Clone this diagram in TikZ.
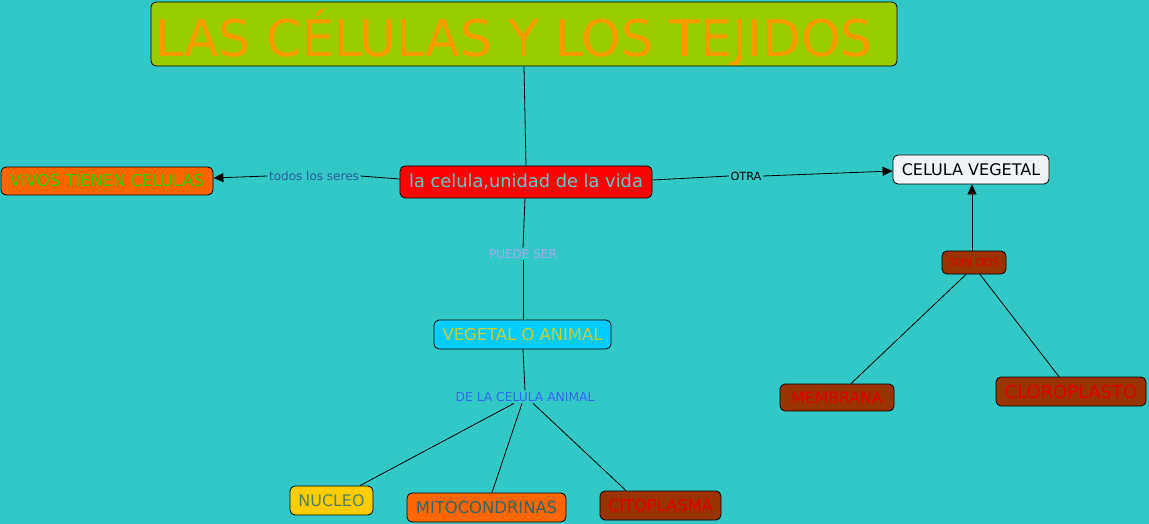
\documentclass[tikz,border=0pt]{standalone}
\usepackage{fontspec}
\setmainfont{DejaVu Sans}
\usetikzlibrary{arrows.meta}
\definecolor{bg}{HTML}{33C8C8}
\definecolor{titlefill}{HTML}{99CC00}
\definecolor{titletext}{HTML}{FF9900}
\definecolor{mainfill}{HTML}{FF0000}
\definecolor{maintext}{HTML}{66C8C8}
\definecolor{orangefill}{HTML}{FF6600}
\definecolor{greentext}{HTML}{33CC00}
\definecolor{darkblue}{HTML}{2D5B9A}
\definecolor{whitefill}{HTML}{F0F4F7}
\definecolor{brownfill}{HTML}{993300}
\definecolor{redtext}{HTML}{E00000}
\definecolor{lilac}{HTML}{A8A8F0}
\definecolor{cyanfill}{HTML}{00CCFF}
\definecolor{yellowtext}{HTML}{CCCC33}
\definecolor{bluetext}{HTML}{3366EE}
\definecolor{yellowfill}{HTML}{FFCC00}
\definecolor{grayishgreen}{HTML}{4F8060}
\definecolor{tealtext}{HTML}{336666}
\tikzset{
  box/.style={draw=black, line width=0.8pt, rounded corners=5pt, inner sep=0pt, anchor=center},
  lbl/.style={inner sep=1.5pt, anchor=center},
  conn/.style={draw=black, line width=0.8pt},
  arr/.style={conn, -{Triangle[length=10pt,width=9pt]}},
}
\begin{document}
\begin{tikzpicture}[x=1pt,y=-1pt]
\fill[bg] (0,0) rectangle (1149,524);
\useasboundingbox (0,0) rectangle (1149,524);

% title
\fill[titlefill, rounded corners=5pt] (151,2) rectangle (897,66);
\begin{scope}
  \clip (152,3) rectangle (896,65);
  \node[text=titletext, font=\fontsize{50.5}{52}\selectfont, inner sep=0pt, anchor=base] (titletxt) at (514,56.5) {LAS CÉLULAS Y LOS TEJIDOS};
\end{scope}
\node[box, minimum width=746pt, minimum height=64pt] (title) at (524,34) {};

% nodes
\node[box, fill=mainfill, minimum width=252pt, minimum height=32pt, text=maintext, font=\fontsize{17.8}{20}\selectfont] (main) at (526,182) {la celula,unidad de la vida};
\node[box, fill=orangefill, minimum width=212pt, minimum height=28pt, text=greentext, font=\fontsize{16.4}{18}\selectfont] (vivos) at (107,181) {VIVOS TIENEN CELULAS};
\node[box, fill=whitefill, minimum width=156pt, minimum height=29pt, text=black, font=\fontsize{16}{18}\selectfont] (vegetal) at (971,169.5) {CELULA VEGETAL};
\node[box, fill=brownfill, minimum width=64pt, minimum height=23pt, text=redtext, font=\fontsize{11}{13}\selectfont] (sondos) at (974,262.5) {SON DOS};
\node[box, fill=brownfill, minimum width=114pt, minimum height=27pt, text=redtext, font=\fontsize{15.7}{17}\selectfont] (membrana) at (837,397.5) {MEMBRANA};
\node[box, fill=brownfill, minimum width=150pt, minimum height=29pt, text=redtext, font=\fontsize{17.9}{19}\selectfont] (cloro) at (1071,391.5) {CLOROPLASTO};
\node[box, fill=cyanfill, minimum width=177pt, minimum height=29pt, text=yellowtext, font=\fontsize{16.4}{18}\selectfont] (vegani) at (522.5,334.5) {VEGETAL O ANIMAL};
\node[box, fill=yellowfill, minimum width=83pt, minimum height=29pt, text=grayishgreen, font=\fontsize{15.9}{17}\selectfont] (nucleo) at (331.5,500.5) {NUCLEO};
\node[box, fill=orangefill, minimum width=159pt, minimum height=29pt, text=tealtext, font=\fontsize{16.4}{18}\selectfont] (mito) at (486.5,507.5) {MITOCONDRINAS};
\node[box, fill=brownfill, minimum width=121pt, minimum height=29pt, text=redtext, font=\fontsize{16.3}{18}\selectfont] (cito) at (660.5,505.5) {CITOPLASMA};

% linking phrases
\node[lbl, text=darkblue, font=\fontsize{12}{14}\selectfont] (todos) at (314,176) {todos los seres};
\node[lbl, text=black, font=\fontsize{11.3}{13}\selectfont] (otra) at (746,176) {OTRA};
\node[lbl, text=lilac, font=\fontsize{12}{14}\selectfont] (puede) at (523,254) {PUEDE SER};
\node[lbl, text=bluetext, font=\fontsize{12.3}{14}\selectfont] (decel) at (525,397) {DE LA CELULA ANIMAL};

% connectors
\draw[conn] (title.south -| 524,0) -- (main.north -| 526,0);
\draw[conn] (main.west |- 0,179) -- (todos.east);
\draw[arr] (todos.west) -- (vivos.east |- 0,178);
\draw[conn] (main.east |- 0,180) -- (otra.west);
\draw[arr] (otra.east) -- (vegetal.west |- 0,171);
\draw[arr] (sondos.north -| 972,0) -- (vegetal.south -| 972,0);
\draw[conn] (sondos.south -| 966,0) -- (membrana.north -| 851,0);
\draw[conn] (sondos.south -| 980,0) -- (cloro.north -| 1059,0);
\draw[conn] (main.south -| 525,0) -- (puede.north);
\draw[conn] (puede.south) -- (vegani.north -| 523,0);
\draw[conn] (vegani.south -| 523,0) -- (decel.north);
\draw[conn] (decel.south -| 514,0) -- (nucleo.north -| 360,0);
\draw[conn] (decel.south -| 522,0) -- (mito.north -| 492,0);
\draw[conn] (decel.south -| 533,0) -- (cito.north -| 626,0);
\end{tikzpicture}
\end{document}
